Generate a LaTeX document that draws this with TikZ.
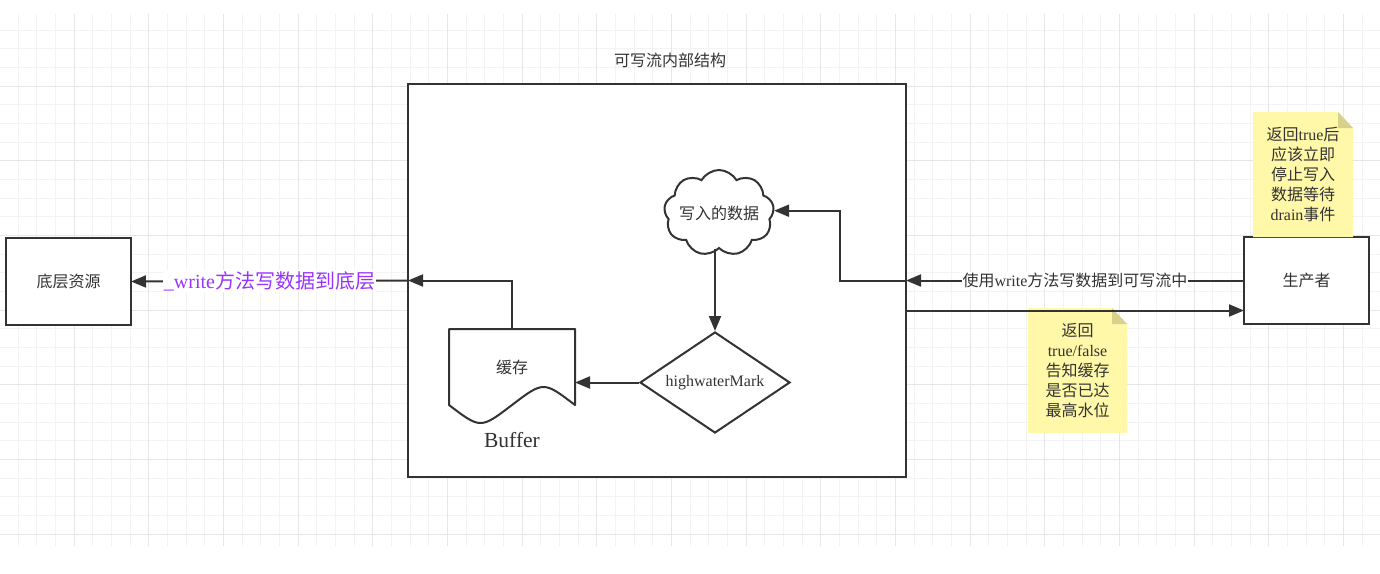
\documentclass[tikz,border=0pt]{standalone}
\usepackage{fontspec}
\setmainfont{Liberation Serif}
\newfontfamily\cjkfont{Noto Sans CJK SC}
\newcommand\zh[1]{{\cjkfont #1}}
\usetikzlibrary{arrows.meta,shapes.geometric,shapes.symbols}
\definecolor{ink}{HTML}{333333}
\definecolor{minorg}{HTML}{F3F3F3}
\definecolor{majorg}{HTML}{E6E6E6}
\definecolor{notey}{HTML}{FFF8A8}
\definecolor{notefold}{HTML}{D8D18C}
\definecolor{purp}{HTML}{9933FF}
\tikzset{
  minorgrid/.style={draw=minorg, line width=1},
  majorgrid/.style={draw=majorg, line width=1},
  txt/.style={text=ink, font=\fontsize{16}{20}\selectfont, inner sep=0, outer sep=0},
  boxnode/.style={draw=ink, fill=white, line width=2, inner sep=0, outer sep=0, text=ink, font=\fontsize{16}{20}\selectfont},
  conn/.style={draw=ink, line width=2},
  arr/.style={conn, -{Triangle[length=15,width=12]}},
  lbl/.style={fill=white, inner sep=1, text=ink, font=\fontsize{16}{20}\selectfont},
  notetxt/.style={text=ink, font=\fontsize{16}{20}\selectfont, align=center, inner sep=0},
}
\begin{document}
\begin{tikzpicture}[x=1pt,y=-1pt]
\useasboundingbox (0,0) rectangle (1380,573);
\fill[white] (0,0) rectangle (1380,573);
% grid
\foreach \k in {1,...,73} \draw[minorgrid] ({18.667*\k-0.6},14) -- ({18.667*\k-0.6},546);
\foreach \k in {1,...,28} \draw[minorgrid] (0,{11.6+18.667*\k}) -- (1380,{11.6+18.667*\k});
\foreach \k in {4,8,...,72} \draw[majorgrid] ({18.667*\k-0.6},14) -- ({18.667*\k-0.6},546);
\foreach \k in {4,8,...,28} \draw[majorgrid] (0,{11.6+18.667*\k}) -- (1380,{11.6+18.667*\k});

% title and main box
\node[txt] (title) at (670,60) {\zh{可写流内部结构}};
\node[boxnode, minimum width=498, minimum height=393] (box) at (657,280.5) {};

% outer boxes
\node[boxnode, minimum width=125, minimum height=87] (res) at (68.5,281.5) {\zh{底层资源}};
\node[boxnode, minimum width=125, minimum height=87] (prod) at (1306.5,280.5) {\zh{生产者}};

% cloud
\node[cloud, cloud puffs=9, cloud puff arc=120, aspect=1.3, draw=ink, fill=white, line width=2,
      minimum width=110, minimum height=86, inner sep=0,
      label={[txt]center:\zh{写入的数据}}]
      (cloud) at (719,213) {};

% diamond
\node[diamond, aspect=1.5, draw=ink, fill=white, line width=2, inner sep=0,
      minimum width=150, minimum height=101, text=ink, font=\fontsize{16}{20}\selectfont]
      (dia) at (715,382.5) {highwaterMark};

% buffer (document shape)
\filldraw[draw=ink, fill=white, line width=2, line join=round]
  (449,329) -- (575,329) -- (575,405) .. controls (543.5,381) .. (512,405)
  .. controls (480.5,429) .. (449,405) -- cycle;
\node[txt, minimum width=126, minimum height=76] (buf) at (512,367) {\zh{缓存}};
\node[txt, font=\fontsize{21.5}{24}\selectfont] (buflbl) at (512,440) {Buffer};

% notes
\fill[notey] (1253,112) -- (1338,112) -- (1353,128) -- (1353,237) -- (1253,237) -- cycle;
\fill[notefold] (1338,112) -- (1353,128) -- (1338,128) -- cycle;
\node[notetxt] (note1) at (1303,174.5) {\zh{返回}true\zh{后}\\\zh{应该立即}\\\zh{停止写入}\\\zh{数据等待}\\drain\zh{事件}};
\fill[notey] (1028,308) -- (1112,308) -- (1127,324) -- (1127,433) -- (1028,433) -- cycle;
\fill[notefold] (1112,308) -- (1127,324) -- (1112,324) -- cycle;
\node[notetxt] (note2) at (1077.5,370.5) {\zh{返回}\\true/false\\\zh{告知缓存}\\\zh{是否已达}\\\zh{最高水位}};

% connectors
\draw[arr] (buf.north) |- (box.west);
\draw[arr] (box.west) -- node[lbl, text=purp, font=\fontsize{20}{24}\selectfont] {\_write\zh{方法写数据到底层}} (res.east);
\draw[arr] (prod.west) -- node[lbl] {\zh{使用}write\zh{方法写数据到可写流中}} (box.east);
\coordinate (bend) at (840,280.5);
\draw[arr] (box.east) -- (bend) |- ([yshift=2.3]cloud.east);
\draw[arr] (cloud.south -| dia.north) -- (dia.north);
\draw[arr] (dia.west) -- (dia.west -| buf.east);
\draw[arr] ([yshift=-30]box.east) -- ([yshift=-30]box.east -| prod.west);
\end{tikzpicture}
\end{document}
